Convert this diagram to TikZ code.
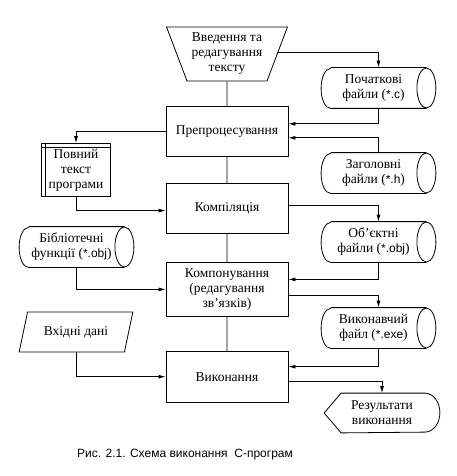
\documentclass[tikz,border=0pt]{standalone}
\usepackage{fontspec}
\setmainfont{Liberation Serif}
\newfontfamily\ext{Liberation Sans}
\usetikzlibrary{positioning,shapes.geometric,arrows.meta}

\begin{document}
\begin{tikzpicture}[
    x=1pt, y=-1pt, line width=0.8pt,
    font=\fontsize{13.5}{15}\selectfont,
    every node/.style = {align=center, inner sep=1pt},
    proc/.style = {draw, rectangle, minimum width=122pt},
    manual/.style = {draw, trapezium, trapezium stretches=true, shape border rotate=180,
      trapezium left angle=67, trapezium right angle=67, minimum width=121pt, minimum height=54pt},
    store/.style = {draw, rectangle, minimum width=69pt, minimum height=53pt,
      path picture={\draw ([xshift=4pt]path picture bounding box.north west) -- ([xshift=4pt]path picture bounding box.south west)
        ([yshift=-4pt]path picture bounding box.north west) -- ([yshift=-4pt]path picture bounding box.north east);}},
    disk/.style = {minimum width=104pt, minimum height=40pt, inner sep=0pt,
      append after command={\pgfextra{
        \draw ([xshift=9.5pt]\tikzlastnode.north west) -- ([xshift=0.5pt]\tikzlastnode.north east)
          ([xshift=0.5pt]\tikzlastnode.east) ellipse [x radius=9.5pt, y radius=20pt]
          ([xshift=0.5pt]\tikzlastnode.south east) -- ([xshift=9.5pt]\tikzlastnode.south west)
          arc[start angle=270, end angle=90, x radius=9.5pt, y radius=20pt];
        \coordinate (\tikzlastnode-n) at ([xshift=5pt]\tikzlastnode.north);
        \coordinate (\tikzlastnode-s) at ([xshift=5pt]\tikzlastnode.south);}}},
    data/.style = {draw, trapezium, trapezium stretches=true, trapezium left angle=67,
      trapezium right angle=113, minimum width=114pt, minimum height=40pt},
    arr/.style = {-{Latex[length=7pt,width=4pt]}}
    ]
    \useasboundingbox (0,0) rectangle (456,476);

    % main column
    \node[manual] (edit) at (227,54) {Введення та\\редагування\\тексту};
    \node[proc, minimum height=50pt, below=25pt of edit] (prep) {Препроцесування};
    \node[proc, minimum height=50pt, below=26pt of prep] (comp) {Компіляція};
    \node[proc, minimum height=54pt, below=28pt of comp] (link) {Компонування\\(редагування\\зв’язків)};
    \node[proc, minimum height=51pt, below=34pt of link] (run) {Виконання};

    % files on the right
    \node[disk] (src) at (373.5,88) {Початкові\\файли ({\ext\fontsize{12}{15}\selectfont *.c})};
    \node[disk] (hdr) at (373.5,173) {Заголовні\\файли ({\ext\fontsize{12}{15}\selectfont *.h})};
    \node[disk] (obj) at (373.5,242) {Об’єктні\\файли ({\ext\fontsize{12}{15}\selectfont *.obj})};
    \node[disk] (exe) at (373.5,328) {Виконавчий\\файл ({\ext\fontsize{12}{15}\selectfont *.exe})};
    \node[minimum width=115pt, minimum height=39pt] (res) at (382,413) {Результати\\виконання};
    \draw (res.west) -- ([xshift=17pt]res.north west) -- ([xshift=-15pt]res.north east)
      arc[start angle=90, end angle=-90, x radius=15pt, y radius=19.5pt]
      -- ([xshift=17pt]res.south west) -- cycle;

    % left column
    \node[store] (full) at (76,170) {Повний\\текст\\програми};
    \node[disk] (lib) at (71.5,247) {Бібліотечні\\функції ({\ext\fontsize{12}{15}\selectfont *.obj})};
    \node[data] (input) at (76,332) {Вхідні дані};

    \draw (edit) -- (prep) -- (comp) -- (link) -- (run);
    \draw[arr] ([yshift=2pt]edit.east) -| (src-n);
    \draw[arr] (src-s) |- ([yshift=8pt]prep.east);
    \draw[arr] (hdr-n) |- ([yshift=-6pt]prep.east);
    \draw[arr] (prep.west) -| (full.north);
    \draw[arr] (full.south) |- ([yshift=-2pt]comp.west);
    \draw[arr] ([yshift=3pt]comp.east) -| (obj-n);
    \draw[arr] (lib-s) |- (link.west);
    \draw[arr] (obj-s) |- ([yshift=10pt]link.east);
    \draw[arr] ([yshift=-6pt]link.east) -| (exe-n);
    \draw[arr] (input.south) |- (run.west);
    \draw[arr] (exe-s) |- ([yshift=10pt]run.east);
    \draw[arr] ([yshift=-5pt]run.east) -| (res.north);

    \node[font=\ext\fontsize{12}{14}\selectfont] (cap) at (185,455) {Рис. 2.1. Схема виконання\ \ С-програм};
\end{tikzpicture}
\end{document}
